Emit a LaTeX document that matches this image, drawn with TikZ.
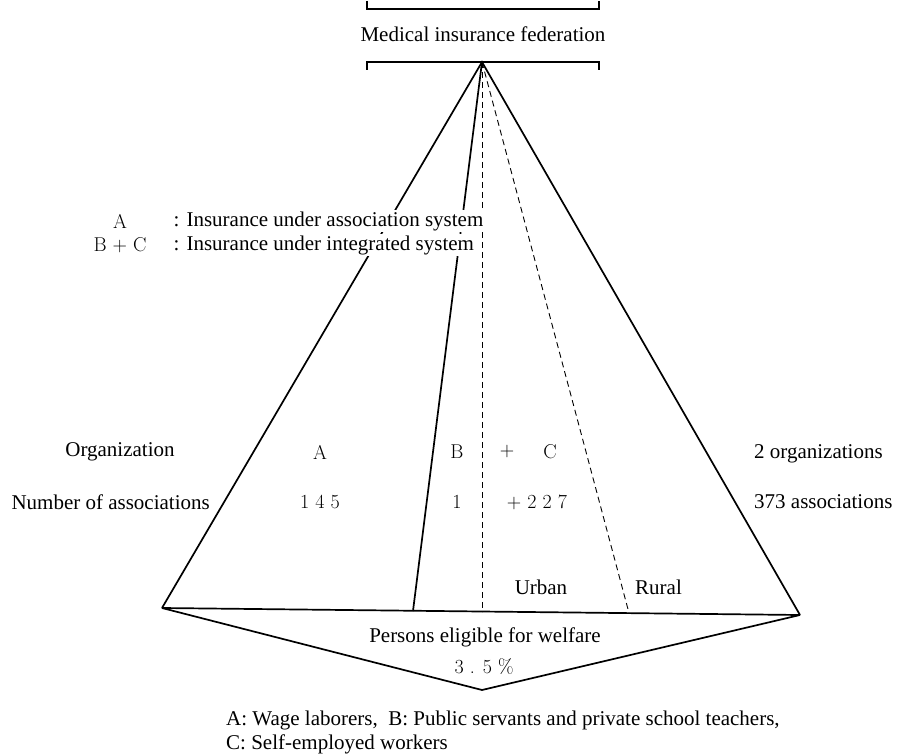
\documentclass[tikz,border=0pt]{standalone}
\usepackage{fontspec}
\newfontfamily\tnr{Liberation Serif}
\begin{document}
\begin{tikzpicture}[x=1pt,y=-1pt,
  solidline/.style={line width=1.7pt,line join=miter},
  dashline/.style={line width=0.9pt,dash pattern=on 6pt off 4pt},
  brk/.style={line width=1.3pt},
  tx/.style={inner sep=0pt,font=\tnr\fontsize{21}{25}\selectfont},
  lm/.style={inner sep=0pt,font=\fontsize{20}{24}\selectfont},
  mask/.style={fill=white,inner sep=1.5pt}]
\useasboundingbox (0,0) rectangle (906,754);
% main geometry
\coordinate (apex) at (482,62);
\coordinate (bl) at (162,608);
\coordinate (br) at (800,615);
\coordinate (tip) at (482,690);
\coordinate (bB) at (413,611);
\coordinate (bU) at (482,612);
\coordinate (bR) at (629,613);
\draw[solidline] (bl) -- (apex) -- (br);
\draw[solidline] (apex) -- (bB);
\draw[dashline] (apex) -- (bU);
\draw[dashline] (apex) -- (bR);
\draw[solidline] (bl) -- (br);
\draw[solidline] (bl) -- (tip) -- (br);
% top box
\node[tx] (fed) at (483,34) {Medical insurance federation};
\coordinate (tl) at (367,9);
\coordinate (tr) at (599,9);
\coordinate (bl0) at (367,62);
\coordinate (br0) at (599,62);
\draw[brk] ([yshift=8pt]tl) -- (tl) -- (tr) -- ([yshift=8pt]tr);
\draw[brk] ([yshift=-8pt]bl0) -- (bl0) -- (br0) -- ([yshift=-8pt]br0);
% legend
\node[lm] (la) at (120,221) {A};
\node[lm] (lbc) at (120,245) {B + C};
\node[tx,mask,anchor=west] (la2) at (172,221) {: Insurance under association system};
\node[tx,mask,anchor=west] (lbc2) at (172,245) {: Insurance under integrated system};
% rows
\node[tx] (org) at (120,452) {Organization};
\node[tx,anchor=east] (num) at (210,502) {Number of associations};
\node[lm] (ra) at (320,452) {A};
\node[lm] (r145) at (320,502) {1 4 5};
\node[lm] (rb) at (457,452) {B};
\node[lm] (rplus) at (507,452) {+};
\node[lm] (rc) at (550,452) {C};
\node[lm] (r1) at (457,502) {1};
\node[lm] (r227) at (537,502) {+ 2 2 7};
\node[tx,anchor=west] (org2) at (754,454) {2 organizations};
\node[tx,anchor=west] (num2) at (754,502) {373 associations};
\node[tx] (urb) at (541,587) {Urban};
\node[tx,anchor=west] (rur) at (635,587) {Rural};
\node[tx] (pers) at (485,637) {Persons eligible for welfare};
\node[lm] (pct) at (484,667) {3 . 5 \%};
\node[tx,anchor=west] (foot1) at (226,720) {A: Wage laborers,\ \ B: Public servants and private school teachers,};
\node[tx,anchor=west] (foot2) at (226,744) {C: Self-employed workers};
\end{tikzpicture}
\end{document}
